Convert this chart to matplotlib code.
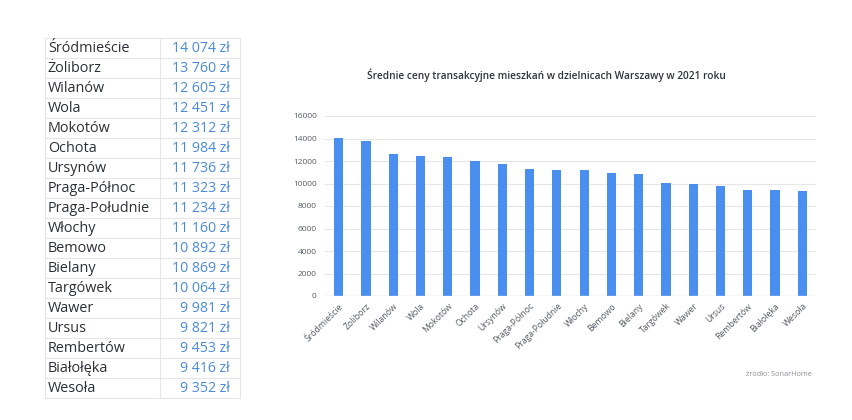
import matplotlib.pyplot as plt

plt.rcParams['font.family'] = ['Open Sans', 'DejaVu Sans']

# Data
districts = ['Śródmieście', 'Żoliborz', 'Wilanów', 'Wola', 'Mokotów', 'Ochota', 'Ursynów',
             'Praga-Północ', 'Praga-Południe', 'Włochy', 'Bemowo', 'Bielany', 'Targówek',
             'Wawer', 'Ursus', 'Rembertów', 'Białołęka', 'Wesoła']
prices = [14074, 13760, 12605, 12451, 12312, 11984, 11736, 11323, 11234, 11160,
          10892, 10869, 10064, 9981, 9821, 9453, 9416, 9352]
yticks = [0, 2000, 4000, 6000, 8000, 10000, 12000, 14000, 16000]

W, H = 852, 420
fig = plt.figure(figsize=(W / 100, H / 100), dpi=100)
fig.patch.set_facecolor('white')

# overlay in pixel coordinates for the table
ov = fig.add_axes([0, 0, 1, 1])
ov.set_xlim(0, W)
ov.set_ylim(H, 0)
ov.axis('off')

tab_left, tab_mid, tab_right = 45, 160, 240
row_top, row_h = 38, 20
grid_c = '#e3e6ea'
n = len(districts)
for i in range(n + 1):
    y = row_top + i * row_h
    ov.plot([tab_left, tab_right], [y, y], color=grid_c, lw=0.8)
for x in (tab_left, tab_mid, tab_right):
    ov.plot([x, x], [row_top, row_top + n * row_h], color=grid_c, lw=0.8)
for i, (d, p) in enumerate(zip(districts, prices)):
    yc = row_top + i * row_h + row_h / 2 + 0.5
    ov.text(tab_left + 3, yc, d, fontsize=10.4, color='#2b2f38', ha='left', va='center')
    ov.text(tab_right - 10, yc, f'{p:,}'.replace(',', ' ') + ' zł', fontsize=10.2,
            color='#4a8ad8', ha='right', va='center')

# bar chart
ax = fig.add_axes([325 / W, 124 / H, (816 - 325) / W, (296 - 116) / H])
x = range(n)
ax.bar(x, prices, width=0.34, color='#4a8ef0', zorder=3)
ax.set_xlim(-0.5, n - 0.5)
ax.set_ylim(0, 16000)
ax.set_yticks(yticks)
ax.set_yticklabels([str(v) for v in yticks], fontsize=6, color='#555a63')
ax.set_xticks(list(x))
ax.set_xticklabels(districts, rotation=45, ha='right', rotation_mode='anchor',
                   fontsize=6.2, color='#555a63')
ax.tick_params(length=0, pad=6)
ax.tick_params(axis='x', pad=4)
ax.grid(axis='y', color='#e6e6e6', lw=0.8, zorder=0)
ax.axhline(0, color='#d8dbe0', lw=1, zorder=4)
for s in ax.spines.values():
    s.set_visible(False)

fig.text(546 / W, 1 - 75 / H, 'Średnie ceny transakcyjne mieszkań w dzielnicach Warszawy w 2021 roku',
         fontsize=7.3, fontweight='semibold', color='#2f333b', ha='center', va='center')
fig.text(812 / W, 1 - 375 / H, 'źródło: SonarHome', fontsize=5.2, color='#8a8f96',
         ha='right', va='center')

fig.savefig('out.png', dpi=100)
